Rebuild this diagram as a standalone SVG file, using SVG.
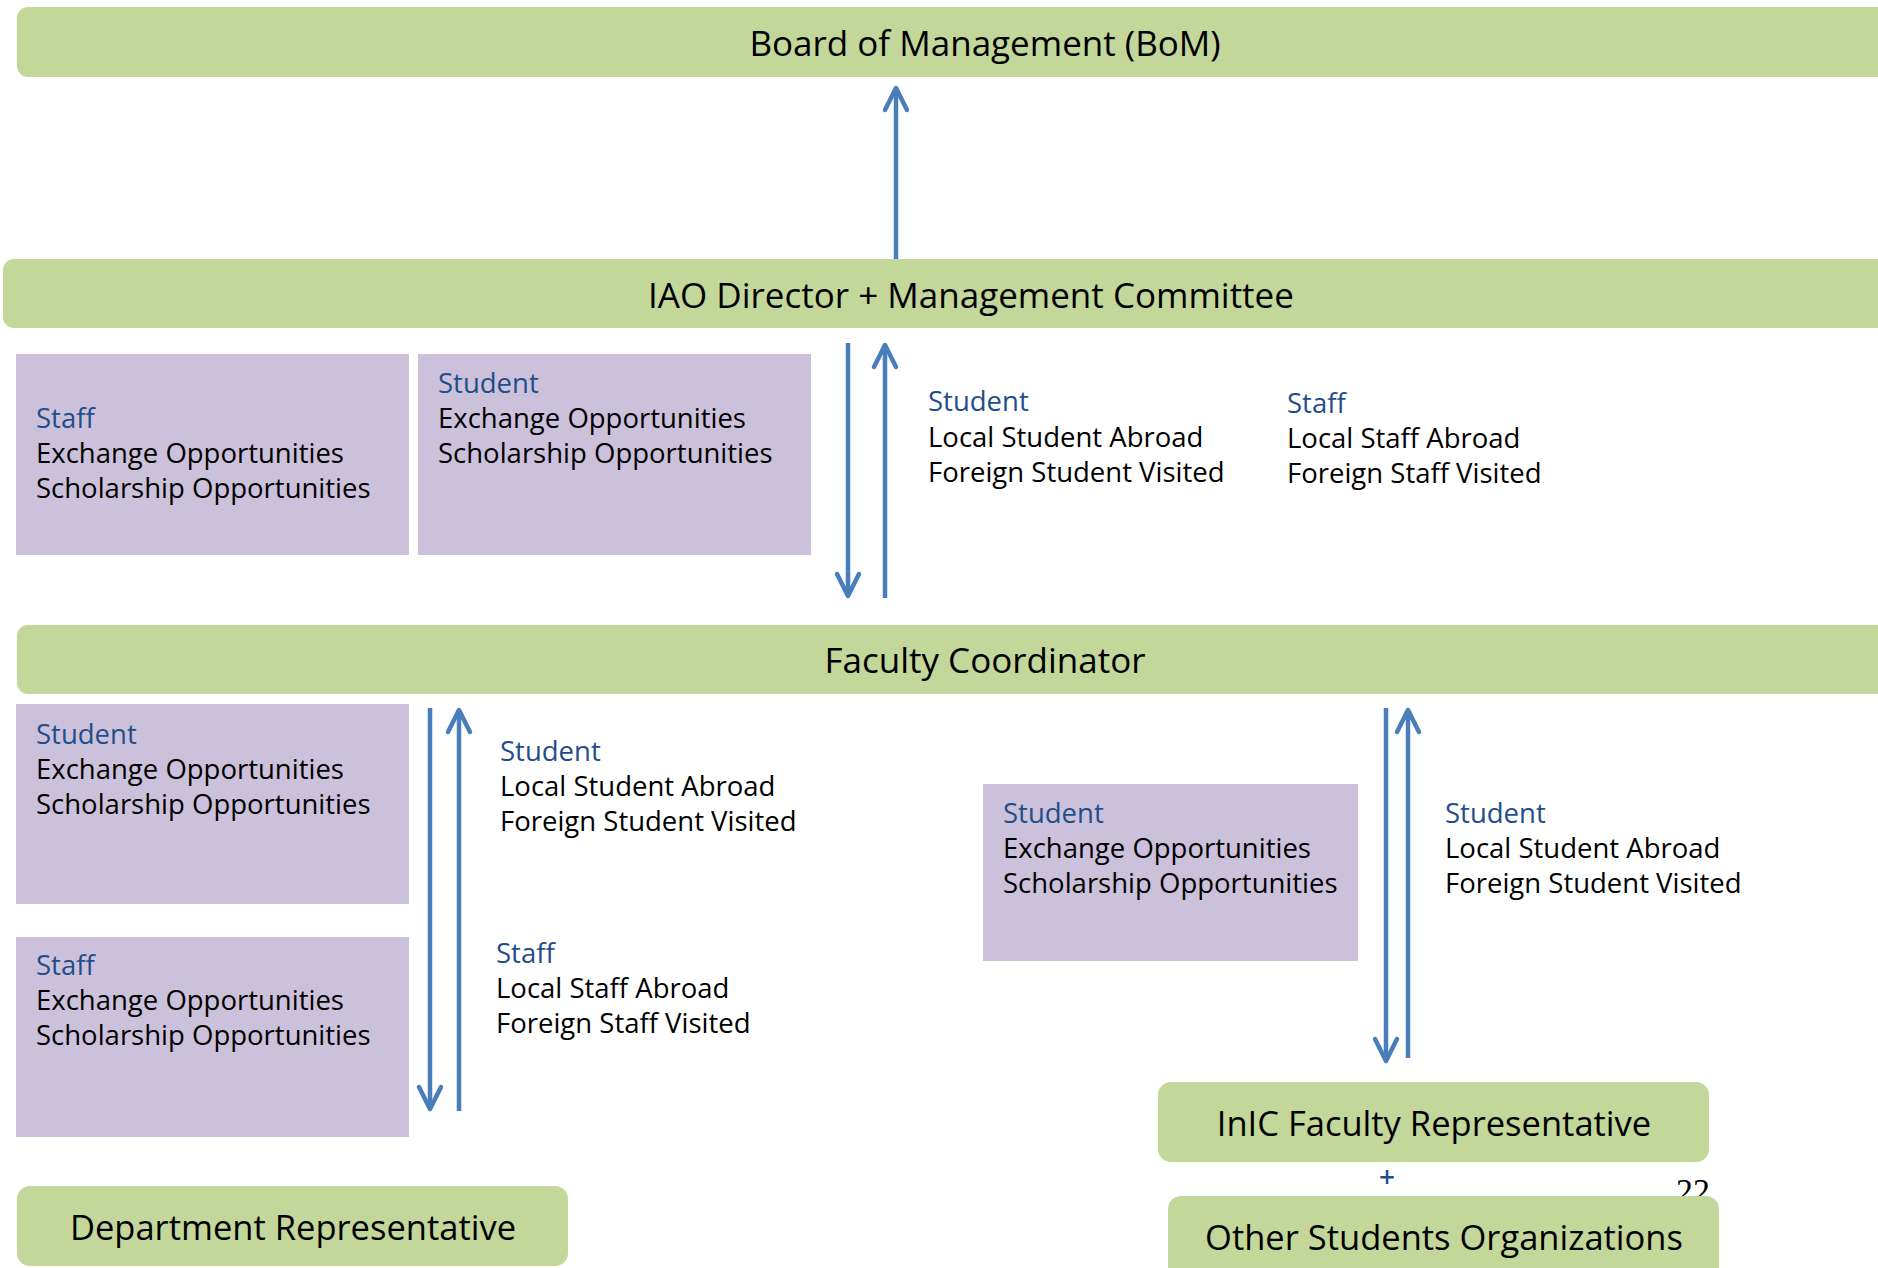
<svg xmlns="http://www.w3.org/2000/svg" width="1878" height="1268" viewBox="0 0 1878 1268">
<style>
.bar{fill:#c4d79b}
.pbox{fill:#ccc1da}
.title{font-family:"Open Sans","Noto Sans",sans-serif;font-size:35px;fill:#000;text-anchor:middle}
.title2{font-family:"Open Sans","Noto Sans",sans-serif;font-size:34.5px;fill:#000;text-anchor:middle}
.txt{font-family:"Open Sans","Noto Sans",sans-serif;font-size:27.5px;fill:#000}
.hd{fill:#1f4e8a}
.conn{stroke:#4a7ebb;stroke-width:4.5;fill:none}
</style>
<defs>
<marker id="arr" markerUnits="userSpaceOnUse" markerWidth="1" markerHeight="1" refX="0" refY="0" orient="auto" overflow="visible">
<path d="M -22 -11 L 0 0 L -22 11" fill="none" stroke="#4a7ebb" stroke-width="4.5" stroke-linejoin="round" stroke-linecap="round"/>
</marker>
</defs>
<rect width="1878" height="1268" fill="#fff"/>

<g id="bom">
<rect class="bar" x="17" y="7" width="1900" height="70" rx="11"/>
<text class="title" x="985" y="56">Board of Management (BoM)</text>
</g>
<g id="iao">
<rect class="bar" x="3" y="259" width="1900" height="69" rx="11"/>
<text class="title" x="971" y="308">IAO Director + Management Committee</text>
</g>
<g id="faculty">
<rect class="bar" x="17" y="625" width="1900" height="69" rx="11"/>
<text class="title" x="985" y="673">Faculty Coordinator</text>
</g>

<g id="iao-staff-box">
<rect class="pbox" x="16" y="354" width="393" height="201"/>
<text class="txt" x="36" y="428"><tspan class="hd">Staff</tspan><tspan x="36" dy="35">Exchange Opportunities</tspan><tspan x="36" dy="35">Scholarship Opportunities</tspan></text>
</g>
<g id="iao-student-box">
<rect class="pbox" x="418" y="354" width="393" height="201"/>
<text class="txt" x="438" y="393"><tspan class="hd">Student</tspan><tspan x="438" dy="35">Exchange Opportunities</tspan><tspan x="438" dy="35">Scholarship Opportunities</tspan></text>
</g>
<g id="iao-student-label">
<text class="txt" x="928" y="411"><tspan class="hd">Student</tspan><tspan x="928" dy="35.5">Local Student Abroad</tspan><tspan x="928" dy="35.5">Foreign Student Visited</tspan></text>
</g>
<g id="iao-staff-label">
<text class="txt" x="1287" y="413"><tspan class="hd">Staff</tspan><tspan x="1287" dy="35">Local Staff Abroad</tspan><tspan x="1287" dy="35">Foreign Staff Visited</tspan></text>
</g>

<g id="fac-student-box">
<rect class="pbox" x="16" y="704" width="393" height="200"/>
<text class="txt" x="36" y="744"><tspan class="hd">Student</tspan><tspan x="36" dy="35">Exchange Opportunities</tspan><tspan x="36" dy="35">Scholarship Opportunities</tspan></text>
</g>
<g id="fac-staff-box">
<rect class="pbox" x="16" y="937" width="393" height="200"/>
<text class="txt" x="36" y="975"><tspan class="hd">Staff</tspan><tspan x="36" dy="35">Exchange Opportunities</tspan><tspan x="36" dy="35">Scholarship Opportunities</tspan></text>
</g>
<g id="fac-student-label">
<text class="txt" x="500" y="761"><tspan class="hd">Student</tspan><tspan x="500" dy="35">Local Student Abroad</tspan><tspan x="500" dy="35">Foreign Student Visited</tspan></text>
</g>
<g id="fac-staff-label">
<text class="txt" x="496" y="963"><tspan class="hd">Staff</tspan><tspan x="496" dy="35">Local Staff Abroad</tspan><tspan x="496" dy="35">Foreign Staff Visited</tspan></text>
</g>
<g id="inic-student-box">
<rect class="pbox" x="983" y="784" width="375" height="177"/>
<text class="txt" x="1003" y="823"><tspan class="hd">Student</tspan><tspan x="1003" dy="35">Exchange Opportunities</tspan><tspan x="1003" dy="35">Scholarship Opportunities</tspan></text>
</g>
<g id="inic-student-label">
<text class="txt" x="1445" y="823"><tspan class="hd">Student</tspan><tspan x="1445" dy="35">Local Student Abroad</tspan><tspan x="1445" dy="35">Foreign Student Visited</tspan></text>
</g>

<g id="dept">
<rect class="bar" x="17" y="1186" width="551" height="80" rx="13"/>
<text class="title2" x="293" y="1240">Department Representative</text>
</g>
<g id="inic">
<rect class="bar" x="1158" y="1082" width="551" height="80" rx="13"/>
<text class="title2" x="1434" y="1136">InIC Faculty Representative</text>
</g>
<text x="1387" y="1187" font-family="Open Sans, sans-serif" font-size="28" font-weight="600" fill="#1f4e8a" text-anchor="middle">+</text>
<text x="1710" y="1202" font-family="Liberation Serif, serif" font-size="34" fill="#000" text-anchor="end">22</text>
<g id="other">
<rect class="bar" x="1168" y="1196" width="551" height="90" rx="13"/>
<text class="title2" x="1444" y="1250">Other Students Organizations</text>
</g>

<g id="connectors">
<line class="conn" x1="896" y1="259" x2="896" y2="88" marker-end="url(#arr)"/>
<line class="conn" x1="848" y1="343" x2="848" y2="596" marker-end="url(#arr)"/>
<line class="conn" x1="885" y1="598" x2="885" y2="345" marker-end="url(#arr)"/>
<line class="conn" x1="430" y1="708" x2="430" y2="1109" marker-end="url(#arr)"/>
<line class="conn" x1="459" y1="1111" x2="459" y2="710" marker-end="url(#arr)"/>
<line class="conn" x1="1386" y1="708" x2="1386" y2="1061" marker-end="url(#arr)"/>
<line class="conn" x1="1408" y1="1058" x2="1408" y2="710" marker-end="url(#arr)"/>
</g>
</svg>
